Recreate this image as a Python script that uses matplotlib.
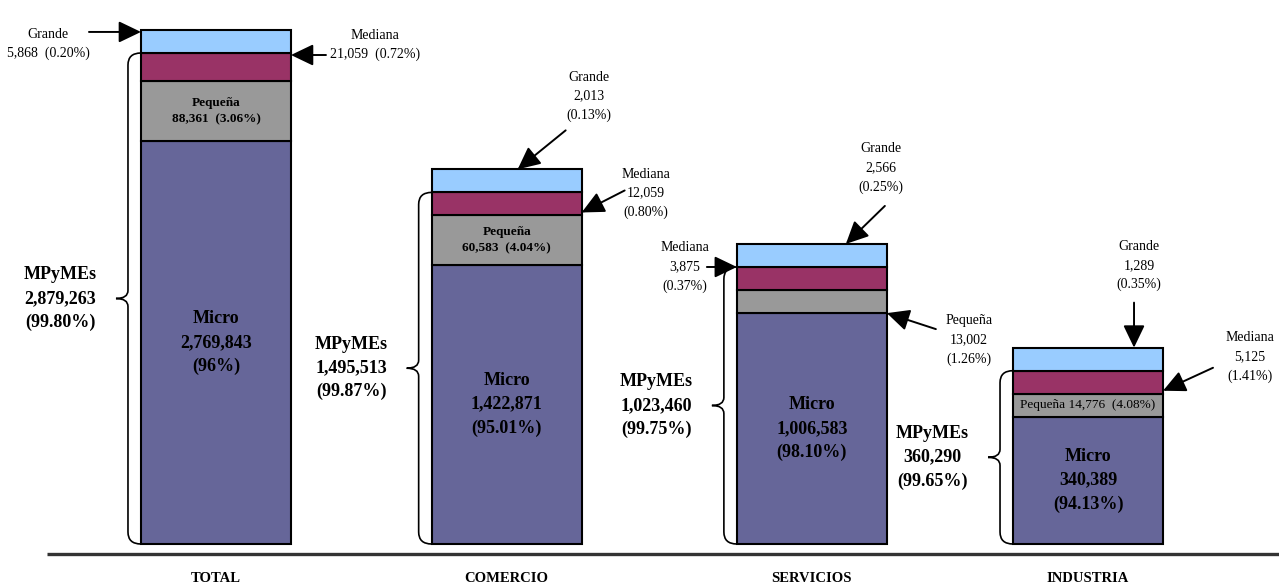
import numpy as np
import matplotlib.pyplot as plt
from matplotlib.path import Path
from matplotlib.patches import PathPatch

plt.rcParams['font.family'] = ['Liberation Serif', 'DejaVu Serif']

# Empresas por tamaño y sector
sectors = ['TOTAL', 'COMERCIO', 'SERVICIOS', 'INDUSTRIA']
micro = [2769843, 1422871, 1006583, 340389]
pequena = [88361, 60583, 13002, 14776]
mediana = [21059, 12059, 3875, 5125]
grande = [5868, 2013, 2566, 1289]
micro_pct = ['96%', '95.01%', '98.10%', '94.13%']
pequena_pct = ['3.06%', '4.04%', '1.26%', '4.08%']
mediana_pct = ['0.72%', '0.80%', '0.37%', '1.41%']
grande_pct = ['0.20%', '0.13%', '0.25%', '0.35%']
mpymes_pct = ['99.80%', '99.87%', '99.75%', '99.65%']

layer_colors = ['#666699', '#999999', '#993366', '#99CCFF']


def seg_height(v):
    # compressed scale so the small strata remain visible
    return max(v ** 0.55, 200.0)


fig = plt.figure(figsize=(12.79, 5.88), dpi=100)
ax = fig.add_axes([0, 0, 1, 1])
xmin, xmax = -0.743, 3.657
ymin, ymax = -381.6, 4718.0
ax.set_xlim(xmin, xmax)
ax.set_ylim(ymin, ymax)
ax.axis('off')

px_x = (xmax - xmin) / 1279
px_y = (ymax - ymin) / 588

# bar slots (third one sits a little further right)
x = np.array([0.0, 1.0, 2.05, 3.0])
width = 0.516
layers = [micro, pequena, mediana, grande]
heights = np.array([[seg_height(v) for v in layer] for layer in layers])
bottoms = np.vstack([np.zeros(len(sectors)), np.cumsum(heights, axis=0)[:-1]])
tops = bottoms + heights
mids = bottoms + heights / 2

for h, b, c in zip(heights, bottoms, layer_colors):
    ax.bar(x, h, width, bottom=b, color=c, edgecolor='black', linewidth=1.5, zorder=2)

# base line and sector names
ax.plot([xmin + 47 * px_x, xmax], [-10 * px_y] * 2, color='#333333', lw=2.4,
        solid_capstyle='butt')
for xi, name in zip(x, sectors):
    ax.text(xi, -34 * px_y, name, ha='center', va='center', fontsize=10.5,
            fontweight='bold')

ARROW = dict(arrowstyle='-|>,head_length=1.25,head_width=0.6', color='black',
             lw=1.4, shrinkA=0, shrinkB=0, mutation_scale=11)


def callout(xy, tail, text, text_off, ls=1.6):
    ax.annotate('', xy=xy, xytext=tail, textcoords='offset pixels',
                arrowprops=ARROW, zorder=4)
    ax.annotate(text, xy=xy, xytext=text_off, textcoords='offset pixels',
                ha='center', va='center', fontsize=10, linespacing=ls)


xl = x - width / 2
xr = x + width / 2

# TOTAL
callout((xl[0], tops[3, 0] - 2 * px_y), (-52, 0),
        f'Grande\n{grande[0]:,}  ({grande_pct[0]})', (-93, -12), ls=1.45)
callout((xr[0], tops[2, 0] - 2 * px_y), (35, 0),
        f'Mediana\n{mediana[0]:,}  ({mediana_pct[0]})', (84, 10), ls=1.45)
# COMERCIO
callout((x[1] + 11 * px_x, tops[3, 1]), (48, 39),
        f'Grande\n{grande[1]:,}\n({grande_pct[1]})', (71, 73))
callout((xr[1], tops[1, 1] + 3 * px_y), (43, 22),
        f'Mediana\n{mediana[1]:,}\n({mediana_pct[1]})', (64, 19))
# SERVICIOS
callout((x[2] + 34 * px_x, tops[3, 2]), (39, 38),
        f'Grande\n{grande[2]:,}\n({grande_pct[2]})', (35, 76))
callout((xl[2], tops[2, 2]), (-30, 0),
        f'Mediana\n{mediana[2]:,}\n({mediana_pct[2]})', (-52, 0))
callout((xr[2], tops[0, 2]), (49, -16),
        f'Pequeña\n{pequena[2]:,}\n({pequena_pct[2]})', (82, -27))
# INDUSTRIA
callout((x[3] + 46 * px_x, tops[3, 3]), (0, 45),
        f'Grande\n{grande[3]:,}\n({grande_pct[3]})', (5, 82))
callout((xr[3], tops[1, 3] + 3 * px_y), (50, 23),
        f'Mediana\n{mediana[3]:,}\n({mediana_pct[3]})', (87, 34))

# labels inside the bars
for i in range(2):
    ax.text(x[i], mids[1, i], f'Pequeña\n{pequena[i]:,}  ({pequena_pct[i]})',
            ha='center', va='center', fontsize=9.5, fontweight='bold',
            linespacing=1.5, zorder=3)
ax.text(x[3], mids[1, 3], f'Pequeña {pequena[3]:,}  ({pequena_pct[3]})',
        ha='center', va='center', fontsize=9.5, zorder=3)
for i in range(len(sectors)):
    ax.text(x[i], mids[0, i], f'Micro\n{micro[i]:,}\n({micro_pct[i]})',
            ha='center', va='center', fontsize=13, fontweight='bold',
            linespacing=1.5, zorder=3)

# braces grouping micro + pequeña + mediana
for i in range(len(sectors)):
    top, bot = tops[2, i], 0.0
    mid = (top + bot) / 2
    xs = xl[i] - 13 * px_x
    tip = xl[i] - 25 * px_x
    verts = [(xl[i], top), (xs, top), (xs, top - 12 * px_y),
             (xs, mid + 8 * px_y), (xs, mid), (tip, mid),
             (xs, mid), (xs, mid - 8 * px_y),
             (xs, bot + 12 * px_y), (xs, bot), (xl[i], bot)]
    codes = [Path.MOVETO, Path.CURVE3, Path.CURVE3,
             Path.LINETO, Path.CURVE3, Path.CURVE3,
             Path.CURVE3, Path.CURVE3,
             Path.LINETO, Path.CURVE3, Path.CURVE3]
    ax.add_patch(PathPatch(Path(verts, codes), fill=False, lw=1.2,
                           edgecolor='black', zorder=3))
    total = micro[i] + pequena[i] + mediana[i]
    ax.annotate(f'MPyMEs\n{total:,}\n({mpymes_pct[i]})', xy=(tip, mid),
                xytext=(-19, 0), textcoords='offset pixels', ha='right',
                va='center', multialignment='center', fontsize=13,
                fontweight='bold', linespacing=1.5)

fig.savefig('out.png', dpi=100)
